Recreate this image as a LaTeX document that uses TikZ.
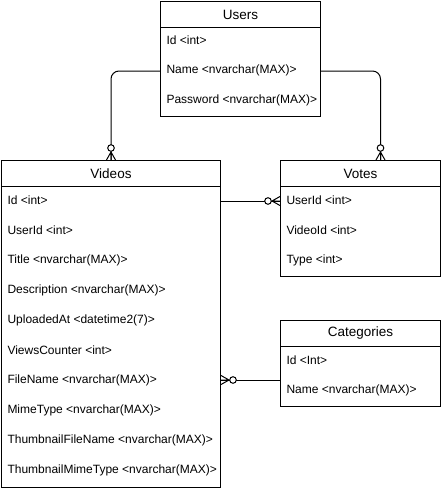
\documentclass[tikz,border=0pt]{standalone}
\usepackage{fontspec}
\setmainfont{Liberation Sans}
\begin{document}
\begin{tikzpicture}[x=1pt,y=-1pt,line width=1pt,
  box/.style={draw,anchor=north west,inner sep=0pt,minimum height=#1},
  hdr/.style={draw,anchor=north west,inner sep=0pt,minimum height=26pt,font=\fontsize{13.5}{16}\selectfont},
  row/.style={anchor=west,inner sep=0pt,font=\fontsize{12}{14}\selectfont},
  conn/.style={draw,line width=1pt,rounded corners=8pt},
  zeromany/.pic={
    \draw[line width=1pt] (-8,0) -- (0,4.5) (-8,0) -- (0,0) (-8,0) -- (0,-4.5);
    \draw[line width=1pt,fill=white] (-12,0) circle (3.3);
  }]
\useasboundingbox (0,0) rectangle (442,490);
% Users
\node[box=115pt,minimum width=160pt] (users) at (160,1) {};
\node[hdr,minimum width=160pt] (users-h) at (160,1) {Users};
\node[row] (users-id) at (166,40) {Id <int>};
\node[row] (users-name) at (166,70) {Name <nvarchar(MAX)>};
\node[row] (users-pw) at (166,100) {Password <nvarchar(MAX)>};
% Videos
\node[box=327pt,minimum width=219pt] (videos) at (1,160) {};
\node[hdr,minimum width=219pt] (videos-h) at (1,160) {Videos};
\node[row] (vid-id) at (7,200) {Id <int>};
\node[row] (vid-uid) at (7,230) {UserId <int>};
\node[row] (vid-title) at (7,260) {Title <nvarchar(MAX)>};
\node[row] (vid-desc) at (7,290) {Description <nvarchar(MAX)>};
\node[row] (vid-up) at (7,320) {UploadedAt <datetime2(7)>};
\node[row] (vid-views) at (7,350) {ViewsCounter <int>};
\node[row] (vid-fn) at (7,380) {FileName <nvarchar(MAX)>};
\node[row] (vid-mt) at (7,410) {MimeType <nvarchar(MAX)>};
\node[row] (vid-tfn) at (7,440) {ThumbnailFileName <nvarchar(MAX)>};
\node[row] (vid-tmt) at (7,470) {ThumbnailMimeType <nvarchar(MAX)>};
% Votes
\node[box=116pt,minimum width=160pt] (votes) at (280,160) {};
\node[hdr,minimum width=160pt] (votes-h) at (280,160) {Votes};
\node[row] (vot-uid) at (286,200) {UserId <int>};
\node[row] (vot-vid) at (286,230) {VideoId <int>};
\node[row] (vot-type) at (286,260) {Type <int>};
% Categories
\node[box=86pt,minimum width=160pt] (cats) at (280,320) {};
\node[hdr,minimum width=160pt] (cats-h) at (280,320) {Categories};
\node[row] (cat-id) at (286,360) {Id <Int>};
\node[row] (cat-name) at (286,390) {Name <nvarchar(MAX)>};
% Connectors
\coordinate (votetop) at ([xshift=20pt]votes.north);
\coordinate (catlink) at (cats.west |- 0,380);
\coordinate (userl) at (users.west |- 0,71);
\coordinate (userr) at (users.east |- 0,71);
\coordinate (vidr) at (videos.east |- 0,201);
\draw[conn] (userl) -| (videos.north);
\draw[conn] (userr) -| (votetop);
\draw[conn] (vidr) -- (vidr -| votes.west);
\draw[conn] (catlink) -- (catlink -| videos.east);
% Markers
\pic[rotate=-90] at (videos.north) {zeromany};
\pic[rotate=-90] at (votetop) {zeromany};
\pic at (vidr -| votes.west) {zeromany};
\pic[rotate=180] at (catlink -| videos.east) {zeromany};
\end{tikzpicture}
\end{document}
